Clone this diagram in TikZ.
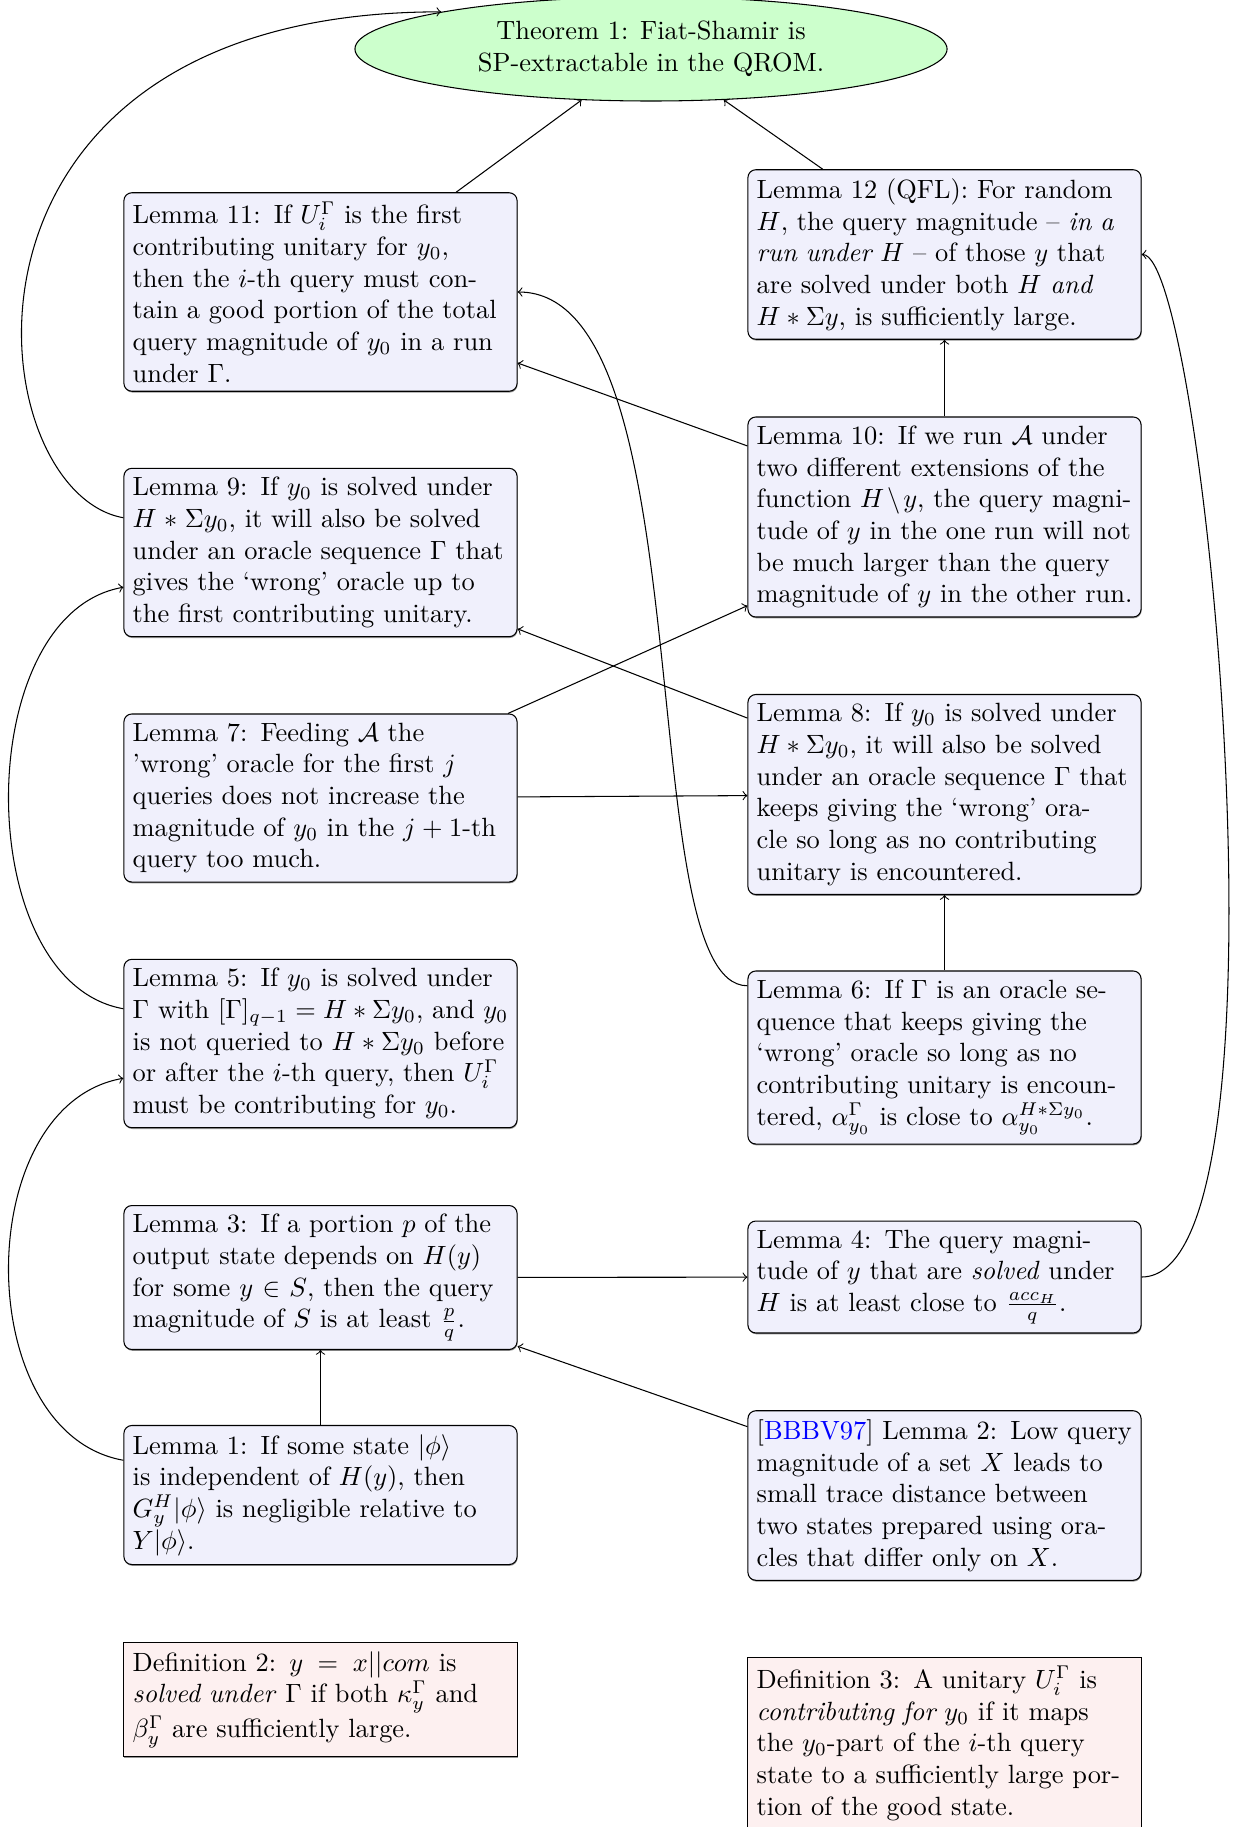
\documentclass[tikz,border=0pt]{standalone}
\usetikzlibrary{shapes.geometric,shadows}
\definecolor{lemfill}{RGB}{240,240,252}
\definecolor{deffill}{RGB}{253,240,240}
\definecolor{thmfill}{RGB}{204,255,204}
\tikzset{
  lem/.style={draw, rounded corners=3pt, fill=lemfill, text width=5cm, align=left,
    inner sep=0.3333em, drop shadow={shadow xshift=0.2pt, shadow yshift=-0.5pt, opacity=0.6, fill=black!70}},
  defn/.style={draw, fill=deffill, text width=5cm, align=left,
    inner sep=0.3333em, drop shadow={shadow xshift=0.2pt, shadow yshift=-0.5pt, opacity=0.6, fill=black!70}},
  thm/.style={ellipse, draw, fill=thmfill, align=center, minimum width=224.3pt, minimum height=39.4pt, inner sep=0.3333em},
  conn/.style={->}
}
\begin{document}
\begin{tikzpicture}[x=0.3788pt, y=-0.3788pt]
\useasboundingbox (0,0) rectangle (1240,1827);

\node[thm] (thm) at (651,49) {Theorem 1: Fiat-Shamir is\\SP-extractable in the QROM.};

\node[lem] (l11) at (320.5,292) {Lemma 11: If $U_i^\Gamma$ is the first contributing unitary for $y_0$, then the $i$-th query must contain a good portion of the total query magnitude of $y_0$ in a run under $\Gamma$.};
\node[lem] (l12) at (944.5,254.5) {Lemma 12 (QFL): For random $H$, the query magnitude -- \emph{in a run under $H$} -- of those $y$ that are solved under both $H$ \emph{and} $H*\Sigma y$, is sufficiently large.};
\node[lem] (l10) at (944.5,517) {Lemma 10: If we run $\mathcal{A}$ under\\two different extensions of the\\\mbox{function $H\mkern2mu\backslash\mkern2mu y$, the query magni-}\\\mbox{tude of $y$ in the one run will not}\\be much larger than the query\\\mbox{magnitude of $y$ in the other run.}};
\node[lem] (l9) at (320.5,552.5) {Lemma 9: If $y_0$ is solved under $H*\Sigma y_0$, it will also be solved under an oracle sequence $\Gamma$ that gives the `wrong' oracle up to the first contributing unitary.};
\node[lem] (l8) at (944.5,794.5) {Lemma 8: If $y_0$ is solved under\\$H*\Sigma y_0$, it will also be solved\\under an oracle sequence $\Gamma$ that\\keeps giving the `wrong' ora-\\cle so long as no contributing\\unitary is encountered.};
\node[lem] (l7) at (320.5,798) {Lemma 7: Feeding $\mathcal{A}$ the 'wrong' oracle for the first $j$ queries does not increase the magnitude of $y_0$ in the $j+1$-th query too much.};
\node[lem] (l6) at (944.5,1057.5) {Lemma 6: If $\Gamma$ is an oracle sequence that keeps giving the `wrong' oracle so long as no contributing unitary is encountered, $\alpha_{y_0}^\Gamma$ is close to $\alpha_{y_0}^{H*\Sigma y_0}$.};
\node[lem] (l5) at (320.5,1043.5) {Lemma 5: If $y_0$ is solved under $\Gamma$ with $[\Gamma]_{q-1} = H*\Sigma y_0$, and $y_0$ is not queried to $H*\Sigma y_0$ before or after the $i$-th query, then $U_i^\Gamma$ must be contributing for $y_0$.};
\node[lem] (l3) at (320.5,1277.5) {Lemma 3: If a portion $p$ of the output state depends on $H(y)$ for some $y\in S$, then the query magnitude of $S$ is at least $\frac{p}{q}$.};
\node[lem] (l4) at (944.5,1277) {Lemma 4: The query magnitude of $y$ that are \emph{solved} under $H$ is at least close to $\frac{acc_H}{q}$.};
\node[lem] (l1) at (320.5,1495) {Lemma 1: If some state $|\phi\rangle$ is independent of $H(y)$, then $G_y^H|\phi\rangle$ is negligible relative to $Y|\phi\rangle$.};
\node[lem] (l2) at (944.5,1495.5) {[\textcolor{blue}{BBBV97}] Lemma 2: Low query magnitude of a set $X$ leads to small trace distance between two states prepared using oracles that differ only on $X$.};
\node[defn] (d2) at (320.5,1699.5) {Definition 2: $y = x||com$ is \emph{solved under} $\Gamma$ if both $\kappa_y^\Gamma$ and $\beta_y^\Gamma$ are sufficiently large.};
\node[defn, anchor=north] (d3) at (944.5,1657) {Definition 3: A unitary $U_i^\Gamma$ is \emph{contributing for $y_0$} if it maps the $y_0$-part of the $i$-th query state to a sufficiently large portion of the good state.};

% straight connectors
\draw[conn] (l11) -- (thm);
\draw[conn] (l12) -- (thm);
\draw[conn] (l10) -- (l12);
\draw[conn] (l10) -- (l11);
\draw[conn] (l8) -- (l9);
\draw[conn] (l7) -- (l10);
\draw[conn] (l7) -- (l8);
\draw[conn] (l6) -- (l8);
\draw[conn] (l3) -- (l4);
\draw[conn] (l1) -- (l3);
\draw[conn] (l2) -- (l3);

% curved connectors
\draw[conn] (l9.170) .. controls +(-148,-26) and +(-520,0) .. (thm.north west);
\draw[conn] (l5.170) .. controls +(-153,-27) and +(-153,27) .. (l9.190);
\draw[conn] (l1.170) .. controls +(-153,-27) and +(-153,27) .. (l5.190);
\draw[conn] (l6.160) .. controls +(-117,0) and +(189,0) .. (l11.east);
\draw[conn] (l4.east) .. controls +(160,0) and +(63,0) .. (l12.east);
\end{tikzpicture}
\end{document}
